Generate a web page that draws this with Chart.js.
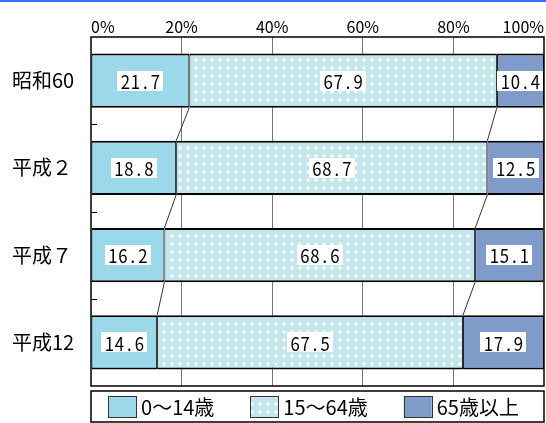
<!DOCTYPE html>
<html lang="ja">
<head>
<meta charset="UTF-8">
<title>年齢3区分別人口構成比</title>
<script src="https://cdn.jsdelivr.net/npm/chart.js@4.4.1/dist/chart.umd.min.js"></script>
<style>
  html, body { margin: 0; padding: 0; background: #ffffff; }
  canvas { display: block; }
</style>
</head>
<body>
<canvas id="chart" width="546" height="423"></canvas>
<script>
// 年次と年齢3区分の構成比（％）
const categories = ["昭和60", "平成２", "平成７", "平成12"];
const ageGroups = ["0～14歳", "15～64歳", "65歳以上"];
const young = [21.7, 18.8, 16.2, 14.6];
const working = [67.9, 68.7, 68.6, 67.5];
const elderly = [10.4, 12.5, 15.1, 17.9];
const tickValues = [0, 20, 40, 60, 80, 100];

const JP_FONT = '"Noto Sans CJK JP", "Noto Sans", sans-serif';

// 15～64歳 の水玉模様
function makeDotPattern() {
  const c = document.createElement("canvas");
  c.width = 8;
  c.height = 8;
  const g = c.getContext("2d");
  g.fillStyle = "#c3e5ec";
  g.fillRect(0, 0, 8, 8);
  g.fillStyle = "#ffffff";
  g.beginPath();
  g.arc(4, 4, 1.7, 0, Math.PI * 2);
  g.fill();
  return g.createPattern(c, "repeat");
}

const fills = ["#9bd8ea", makeDotPattern(), "#7f9bca"];

// 上端の青い帯
const topBand = {
  id: "topBand",
  beforeDraw(chart) {
    const ctx = chart.ctx;
    ctx.save();
    ctx.fillStyle = "#3f6ff2";
    ctx.fillRect(0, 0, chart.width, 2);
    ctx.restore();
  },
};

// 枠線・目盛り・区分線・数値ラベル
const decorations = {
  id: "decorations",
  afterDatasetsDraw(chart) {
    const { ctx, chartArea: area } = chart;
    const yScale = chart.scales.y;
    ctx.save();

    // 区分の境目をつなぐ線
    ctx.strokeStyle = "#333333";
    ctx.lineWidth = 1;
    for (let k = 0; k < 2; k++) {
      const bars = chart.getDatasetMeta(k).data;
      for (let i = 0; i < bars.length - 1; i++) {
        const a = bars[i];
        const b = bars[i + 1];
        ctx.beginPath();
        ctx.moveTo(a.x, a.y + a.height / 2);
        ctx.lineTo(b.x, b.y - b.height / 2);
        ctx.stroke();
      }
    }

    // 内向きの目盛り（年次の境目）
    ctx.strokeStyle = "#000000";
    for (let i = 0; i < categories.length - 1; i++) {
      const y = Math.round((yScale.getPixelForValue(i) + yScale.getPixelForValue(i + 1)) / 2) + 0.5;
      ctx.beginPath();
      ctx.moveTo(area.left, y);
      ctx.lineTo(area.left + 6, y);
      ctx.stroke();
    }

    // プロットエリアの枠
    ctx.lineWidth = 1.5;
    ctx.strokeRect(area.left, area.top, area.right - area.left, area.bottom - area.top);

    // 数値ラベル（白い箱＋等幅風の文字）
    chart.data.datasets.forEach((ds, d) => {
      chart.getDatasetMeta(d).data.forEach((el, i) => {
        const text = ds.data[i].toFixed(1);
        const cell = 10;
        const w = text.length * cell + 6;
        const h = 20;
        const cx = (el.x + el.base) / 2;
        const cy = el.y;
        ctx.fillStyle = "#ffffff";
        ctx.fillRect(Math.round(cx - w / 2), Math.round(cy - h / 2), w, h);
        ctx.fillStyle = "#000000";
        ctx.font = "19px " + JP_FONT;
        ctx.textAlign = "center";
        ctx.textBaseline = "middle";
        const start = cx - (text.length * cell) / 2;
        for (let c = 0; c < text.length; c++) {
          ctx.save();
          ctx.translate(start + c * cell + cell / 2, cy + 1);
          ctx.scale(0.88, 1);
          ctx.fillText(text[c], 0, 0);
          ctx.restore();
        }
      });
    });

    ctx.restore();
  },
};

// 枠付きの凡例
const boxedLegend = {
  id: "boxedLegend",
  afterDraw(chart) {
    const { ctx, chartArea: area } = chart;
    const top = area.bottom + 5;
    const bottom = chart.height - 1;
    ctx.save();
    ctx.lineWidth = 1.5;
    ctx.strokeStyle = "#000000";
    ctx.strokeRect(area.left, top, area.right - area.left, bottom - top);

    ctx.font = "20px " + JP_FONT;
    const boxW = 28;
    const boxH = 21;
    const gapText = 5;
    const gapItem = 36;
    const widths = chart.data.datasets.map((ds) => boxW + gapText + ctx.measureText(ds.label).width);
    const total = widths.reduce((s, w) => s + w, 0) + gapItem * (widths.length - 1);
    let x = (area.left + area.right) / 2 - total / 2 - 4;
    const cy = (top + bottom) / 2;

    chart.data.datasets.forEach((ds, i) => {
      ctx.fillStyle = ds.backgroundColor;
      ctx.fillRect(x, cy - boxH / 2, boxW, boxH);
      ctx.lineWidth = 1;
      ctx.strokeStyle = "#333333";
      ctx.strokeRect(Math.round(x) + 0.5, Math.round(cy - boxH / 2) + 0.5, boxW, boxH);
      ctx.fillStyle = "#000000";
      ctx.textAlign = "left";
      ctx.textBaseline = "middle";
      ctx.fillText(ds.label, x + boxW + gapText, cy + 1);
      x += widths[i] + gapItem;
    });
    ctx.restore();
  },
};

const ctx = document.getElementById("chart").getContext("2d");

new Chart(ctx, {
  type: "bar",
  data: {
    labels: categories,
    datasets: [young, working, elderly].map((values, i) => ({
      label: ageGroups[i],
      data: values,
      backgroundColor: fills[i],
      borderColor: "#000000",
      borderWidth: { top: 2, bottom: 2, left: 1, right: 1 },
      borderSkipped: false,
      barPercentage: 0.62,
      categoryPercentage: 1,
    })),
  },
  options: {
    indexAxis: "y",
    responsive: false,
    animation: false,
    layout: { padding: { top: 0, right: 2, bottom: 37, left: 12 } },
    plugins: {
      legend: { display: false },
      tooltip: { enabled: false },
    },
    scales: {
      x: {
        position: "top",
        stacked: true,
        min: 0,
        max: 100,
        afterBuildTicks(scale) {
          scale.ticks = tickValues.map((v) => ({ value: v }));
        },
        afterFit(scale) {
          scale.height = 37;
        },
        border: { display: false },
        grid: {
          drawTicks: false,
          color: (c) => (c.tick && (c.tick.value === 0 || c.tick.value === 100) ? "rgba(0,0,0,0)" : "#777777"),
          lineWidth: 1,
        },
        ticks: {
          align: "inner",
          padding: 0,
          color: "#000000",
          font: { family: JP_FONT, size: 16 },
          callback: (v) => v + "%",
        },
      },
      y: {
        stacked: true,
        afterFit(scale) {
          scale.width = 79;
        },
        border: { display: false },
        grid: { display: false },
        ticks: {
          crossAlign: "far",
          color: "#000000",
          font: { family: JP_FONT, size: 20 },
        },
      },
    },
  },
  plugins: [topBand, decorations, boxedLegend],
});
</script>
</body>
</html>
